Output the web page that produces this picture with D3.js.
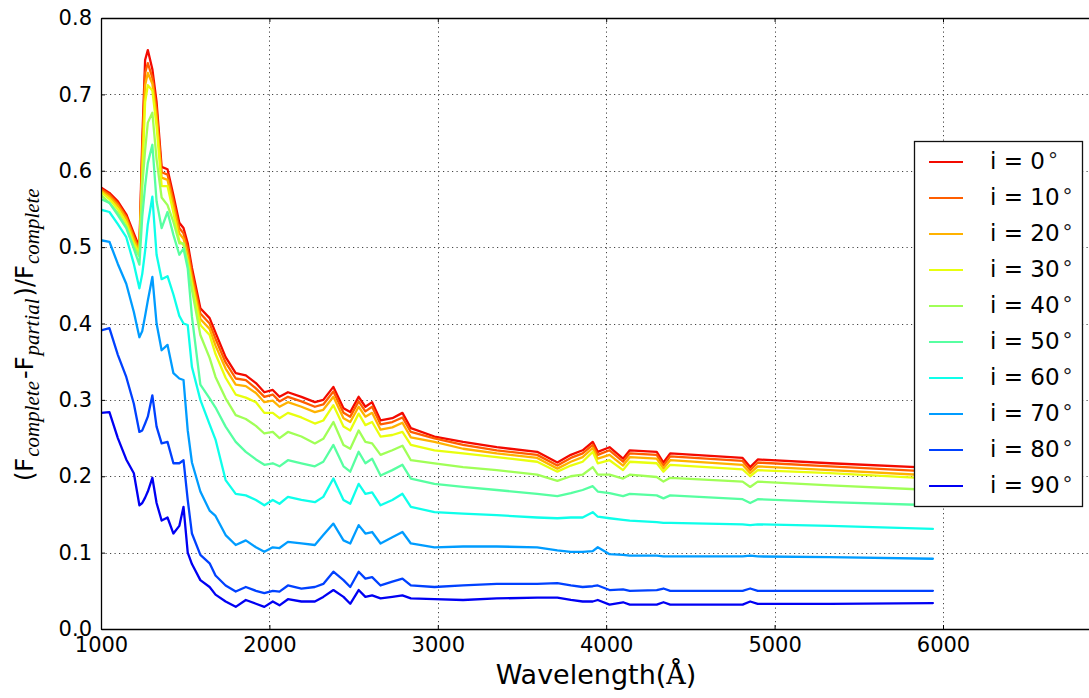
<!DOCTYPE html>
<html>
<head>
<meta charset="utf-8">
<script src="https://cdn.jsdelivr.net/npm/d3@7"></script>
<style>
  html, body { margin: 0; padding: 0; background: #fff; }
  svg { display: block; }
</style>
</head>
<body>
<svg id="chart" width="1089" height="698"></svg>
<script>
// Wavelength grid (Å) shared by every inclination curve
const wavelength = [1000,1050,1100,1150,1195,1228,1245,1262,1278,1305,1330,1360,1395,1430,1465,1490,1515,1540,1590,1645,1680,1740,1800,1860,1920,1970,2020,2060,2110,2190,2270,2320,2380,2440,2480,2530,2570,2610,2660,2730,2790,2840,2980,3150,3350,3590,3710,3790,3860,3920,3950,4020,4100,4140,4300,4340,4380,4810,4855,4900,5330,5940];

// Fractional flux difference (F_complete - F_partial)/F_complete per inclination
const incl0 = [.578,.571,.560,.543,.518, .500,.640,.745,.758,.733, .690,.605,.602,.568,.532, .525,.505,.473,.420,.407, .388,.356,.335,.332,.322, .310,.313,.304,.310,.304, .297,.300,.317,.289,.284, .304,.291,.297,.273,.276, .283,.263,.252,.245,.238, .232,.218,.228,.234,.245, .232,.238,.223,.234,.232, .218,.230,.224,.212,.222, .217,.211];
const incl10 = [.576,.569,.557,.540,.514, .497,.625,.728,.741,.722, .680,.598,.595,.561,.525, .518,.498,.466,.413,.400, .380,.349,.328,.326,.315, .304,.307,.298,.304,.298, .291,.294,.311,.283,.278, .298,.285,.291,.268,.271, .277,.258,.2495,.241,.234, .228,.214,.224,.230,.241, .228,.234,.219,.230,.228, .214,.226,.220,.208,.218, .213,.206];
const incl20 = [.574,.566,.554,.537,.510, .494,.610,.712,.728,.714, .670,.591,.588,.554,.518, .511,.490,.458,.406,.393, .371,.341,.320,.318,.309, .297,.299,.291,.297,.291, .284,.287,.304,.276,.271, .291,.278,.283,.261,.264, .270,.251,.245,.236,.230, .224,.210,.219,.225,.237, .223,.228,.214,.225,.223, .210,.221,.215,.204,.213, .208,.201];
const incl30 = [.572,.563,.550,.532,.505, .492,.590,.690,.712,.705, .658,.580,.580,.545,.508, .503,.482,.452,.398,.385, .360,.329,.307,.303,.297, .283,.283,.276,.283,.277, .269,.273,.293,.265,.260, .282,.267,.271,.252,.254, .258,.241,.234,.230,.225, .219,.206,.214,.219,.232, .217,.221,.208,.219,.217, .206,.215,.209,.200,.208, .204,.197];
const incl40 = [.568,.558,.545,.527,.500, .488,.580,.627,.663,.676, .615,.565,.555,.533,.505, .505,.478,.444,.385,.355, .330,.302,.280,.275,.266, .256,.258,.250,.258,.252, .243,.249,.271,.241,.236, .260,.245,.243,.228,.234, .240,.221,.217,.212,.208, .202,.194,.200,.202,.212, .202,.202,.197,.202,.199, .193,.198,.193,.186,.193, .188,.182];
const incl50 = [.563,.558,.542,.525,.498, .477,.540,.580,.610,.634, .560,.525,.546,.516,.490, .498,.472,.409,.320,.302, .290,.265,.245,.232,.222, .215,.217,.213,.221,.217, .213,.219,.241,.213,.206, .232,.217,.223,.201,.208, .215,.197,.190,.186,.182, .177,.174,.178,.182,.187, .180,.178,.174,.177,.175, .171,.175,.170,.165,.170, .166,.162];
const incl60 = [.549,.546,.530,.513,.478, .446,.465,.495,.530,.566, .490,.458,.462,.438,.410, .400,.398,.343,.300,.268, .248,.195,.177,.175,.169, .162,.169,.164,.173,.169, .166,.173,.197,.169,.164, .190,.177,.179,.162,.169, .177,.160,.153,.151,.149, .146,.145,.146,.146,.153, .147,.145,.143,.142,.140, .139,.139,.137,.136,.137, .135,.131];
const incl70 = [.509,.507,.478,.452,.415, .382,.390,.410,.430,.461, .400,.365,.372,.335,.328, .326,.260,.218,.180,.155, .148,.123,.110,.116,.107, .101,.107,.106,.114,.112, .110,.123,.138,.116,.112, .136,.125,.127,.112,.120, .127,.112,.107,.108,.108, .107,.103,.101,.101,.102, .107,.098,.097,.096,.096, .095,.095,.095,.096,.095, .094,.092];
const incl80 = [.391,.394,.359,.330,.295, .258,.260,.269,.278,.306, .265,.243,.245,.217,.217, .221,.169,.125,.097,.086, .070,.057,.049,.055,.050, .047,.050,.049,.057,.053, .055,.059,.075,.064,.055, .075,.066,.068,.057,.062, .066,.057,.055,.057,.059, .059,.060,.057,.055,.056, .057,.051,.052,.050,.051, .053,.050,.050,.053,.050, .050,.050];
const incl90 = [.283,.284,.250,.222,.204, .162,.165,.172,.180,.198, .165,.142,.146,.125,.135, .160,.100,.085,.064,.055, .045,.036,.029,.038,.033, .029,.036,.031,.039,.036, .036,.042,.051,.042,.033, .051,.042,.044,.040,.042, .044,.040,.039,.038,.040, .041,.041,.038,.036,.036, .038,.032,.035,.032,.032, .035,.032,.032,.036,.033, .033,.034];

const inclinations = [0, 10, 20, 30, 40, 50, 60, 70, 80, 90];
const seriesValues = [incl0, incl10, incl20, incl30, incl40, incl50, incl60, incl70, incl80, incl90];
const seriesColors = ["#f30a00", "#ff5e00", "#ffb200", "#e8ff0e", "#a0ff57", "#57ffa1", "#0effea", "#009cff", "#0041ff", "#0000f3"];

const xTickValues = [1000, 2000, 3000, 4000, 5000, 6000];
const xGridValues = [2000, 3000, 4000, 5000, 6000];
const yTickValues = [0, 0.1, 0.2, 0.3, 0.4, 0.5, 0.6, 0.7, 0.8];
const yGridValues = [0.1, 0.2, 0.3, 0.4, 0.5, 0.6, 0.7];

const FONT = "'DejaVu Sans', sans-serif";
const svg = d3.select("#chart");

// Plot frame: wavelength axis runs 1000-7000 Å, the right part lies beyond the page edge
const plot = { left: 101, top: 18, right: 1111.4, bottom: 629 };
const x = d3.scaleLinear().domain([1000, 7000]).range([plot.left, plot.right]);
const y = d3.scaleLinear().domain([0, 0.8]).range([plot.bottom, plot.top]);

svg.append("defs").append("clipPath").attr("id", "plotClip")
  .append("rect")
  .attr("x", plot.left).attr("y", plot.top)
  .attr("width", plot.right - plot.left).attr("height", plot.bottom - plot.top);

// Dotted grid
const grid = svg.append("g").attr("stroke", "#444").attr("stroke-width", 1)
  .attr("stroke-dasharray", "1.2,3.3");
grid.selectAll("line.gx").data(xGridValues).join("line")
  .attr("x1", d => Math.round(x(d)) + 0.5).attr("x2", d => Math.round(x(d)) + 0.5)
  .attr("y1", plot.top).attr("y2", plot.bottom);
grid.selectAll("line.gy").data(yGridValues).join("line")
  .attr("y1", d => Math.round(y(d)) + 0.5).attr("y2", d => Math.round(y(d)) + 0.5)
  .attr("x1", plot.left).attr("x2", plot.right);

// Curves
const line = d3.line()
  .x((d, i) => x(wavelength[i]))
  .y(d => y(d));

svg.append("g").attr("clip-path", "url(#plotClip)")
  .selectAll("path").data(seriesValues).join("path")
  .attr("d", d => line(d))
  .attr("fill", "none")
  .attr("stroke", (d, i) => seriesColors[i])
  .attr("stroke-width", 2.3)
  .attr("stroke-linejoin", "round")
  .attr("stroke-linecap", "round");

// Axes with inward ticks
function styleAxis(g) {
  g.selectAll("text").attr("font-family", FONT).attr("font-size", 21).attr("fill", "#000");
  g.selectAll(".tick line").attr("stroke", "#000").attr("stroke-width", 1);
  g.select(".domain").attr("stroke", "#000").attr("stroke-width", 1.3);
}

svg.append("g").attr("transform", `translate(0,${plot.bottom})`)
  .call(d3.axisBottom(x).tickValues(xTickValues).tickFormat(d3.format("d"))
    .tickSizeInner(-4).tickSizeOuter(0).tickPadding(8))
  .call(styleAxis);

svg.append("g").attr("transform", `translate(0,${plot.top})`)
  .call(d3.axisTop(x).tickValues(xTickValues).tickFormat("")
    .tickSizeInner(-4).tickSizeOuter(0))
  .call(styleAxis);

svg.append("g").attr("transform", `translate(${plot.left},0)`)
  .call(d3.axisLeft(y).tickValues(yTickValues).tickFormat(d3.format(".1f"))
    .tickSizeInner(-4).tickSizeOuter(0).tickPadding(9))
  .call(styleAxis);

// Axis titles
const xTitle = svg.append("text")
  .attr("x", 596).attr("y", 684)
  .attr("text-anchor", "middle")
  .attr("font-family", FONT).attr("font-size", 27).attr("fill", "#000");
xTitle.append("tspan").text("Wavelength(");
xTitle.append("tspan").attr("font-family", "'DejaVu Serif', serif").text("Å");
xTitle.append("tspan").text(")");

const yTitle = svg.append("text")
  .attr("transform", "translate(33,481) rotate(-90)")
  .attr("font-family", FONT).attr("font-size", 24).attr("fill", "#000");
const sub = (t, dx) => yTitle.append("tspan")
  .attr("font-family", "'Liberation Serif', serif").attr("font-style", "italic")
  .attr("font-size", 21).attr("dx", dx).attr("dy", 6).text(t);
yTitle.append("tspan").text("(F");
sub("complete", 1);
yTitle.append("tspan").attr("dx", 2).attr("dy", -6).text("-F");
sub("partial", 1);
yTitle.append("tspan").attr("dx", 2).attr("dy", -6).text(")/F");
sub("complete", 1);

// Legend
const legend = svg.append("g");
legend.append("rect")
  .attr("x", 914.5).attr("y", 141.5).attr("width", 168).attr("height", 365)
  .attr("fill", "#fff").attr("stroke", "#111").attr("stroke-width", 1.3);

const entries = legend.selectAll("g.entry").data(inclinations).join("g")
  .attr("transform", (d, i) => `translate(0,${162 + i * 36})`);
entries.append("line")
  .attr("x1", 929).attr("x2", 963).attr("y1", 0).attr("y2", 0)
  .attr("stroke", (d, i) => seriesColors[i]).attr("stroke-width", 2);
const labels = entries.append("text")
  .attr("x", 990).attr("y", 7)
  .attr("font-family", FONT).attr("font-size", 23).attr("fill", "#000")
  .attr("xml:space", "preserve");
labels.append("tspan").text(d => `i = ${d}`);
labels.append("tspan").attr("dx", 3).attr("dy", -2).attr("font-size", 20)
  .attr("fill", "#222").text("°");
</script>
</body>
</html>
